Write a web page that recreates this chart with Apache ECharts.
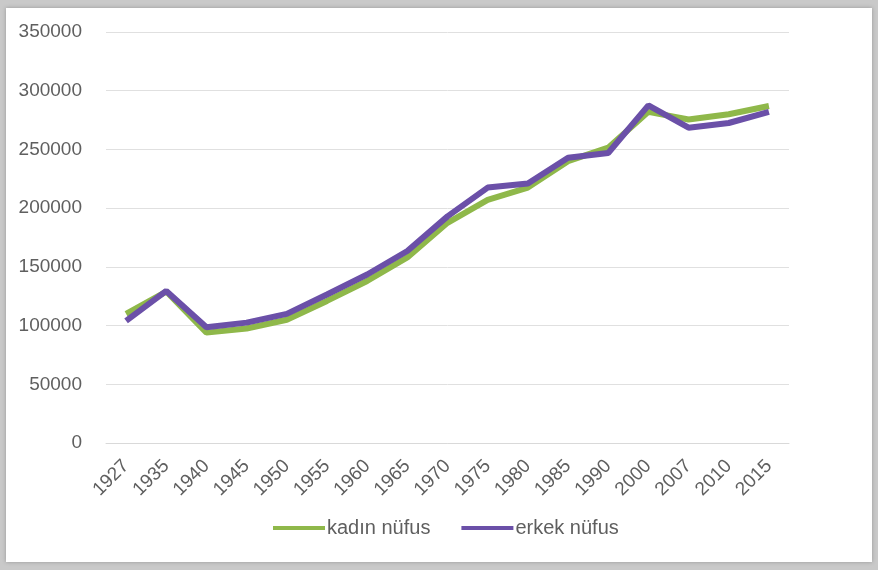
<!DOCTYPE html>
<html>
<head>
<meta charset="utf-8">
<script src="https://cdn.jsdelivr.net/npm/echarts@6/dist/echarts.min.js"></script>
<style>
html,body{margin:0;padding:0;width:878px;height:570px;overflow:hidden;background:#c9c9c9;}
#frame{position:absolute;left:6px;top:8px;width:866px;height:554px;background:#fff;box-shadow:0 0 4px rgba(0,0,0,0.25);}
#chart{position:absolute;left:0;top:0;width:878px;height:570px;}
</style>
</head>
<body>
<div id="frame"></div>
<div id="chart"></div>
<script>
var years = ['1927','1935','1940','1945','1950','1955','1960','1965','1970','1975','1980','1985','1990','2000','2007','2010','2015'];
var kadinNufus = [110000,129000,94000,97500,105000,121000,138000,158000,187500,207000,217500,240000,251500,282000,275500,280000,287000];
var erkekNufus = [104000,129500,98500,102500,110000,126500,143500,163500,193000,217500,221000,243000,247000,287500,268500,272500,282000];
var yTicks = [0,50000,100000,150000,200000,250000,300000,350000];

var chart = echarts.init(document.getElementById('chart'), null, {renderer:'canvas'});
var font = 'Liberation Sans, Arial, sans-serif';
chart.setOption({
  animation:false,
  backgroundColor:'transparent',
  grid:{left:106,right:89,top:32,bottom:127,containLabel:false},
  legend:{
    top:513,left:268,
    itemWidth:52,itemHeight:4,itemGap:31,
    icon:'rect',
    textStyle:{color:'#5f5f5f',fontSize:20,fontFamily:font,padding:[0,0,0,-3]},
    data:['kadın nüfus','erkek nüfus']
  },
  xAxis:{
    type:'category',data:years,boundaryGap:true,
    axisLine:{lineStyle:{color:'#d9d9d9',width:1}},
    axisTick:{show:false},
    axisLabel:{rotate:45,color:'#5f5f5f',fontSize:19,fontFamily:font,margin:20,interval:0}
  },
  yAxis:{
    type:'value',min:yTicks[0],max:yTicks[yTicks.length-1],interval:50000,
    axisLine:{show:false},axisTick:{show:false},
    splitLine:{lineStyle:{color:'#e0e0e0',width:1}},
    axisLabel:{color:'#5f5f5f',fontSize:19,fontFamily:font,margin:24,formatter:function(v){return String(v);}}
  },
  series:[
    {name:'kadın nüfus',type:'line',data:kadinNufus,showSymbol:false,symbol:'none',
     lineStyle:{color:'#8fb84a',width:6},itemStyle:{color:'#8fb84a'}},
    {name:'erkek nüfus',type:'line',data:erkekNufus,showSymbol:false,symbol:'none',
     lineStyle:{color:'#6b50a8',width:6},itemStyle:{color:'#6b50a8'}}
  ]
});
</script>
</body>
</html>
